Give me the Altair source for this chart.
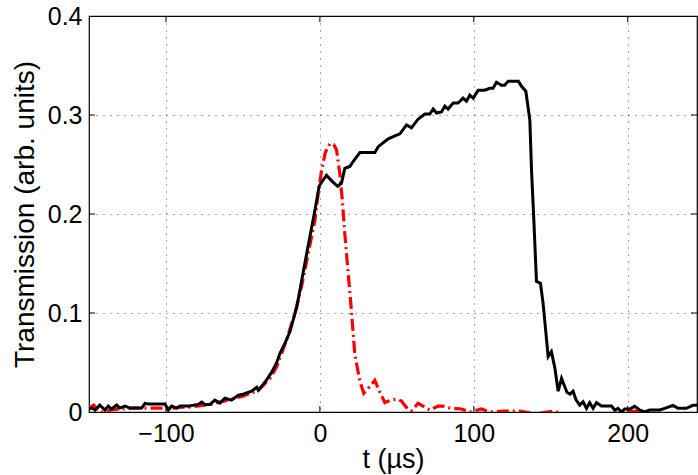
import altair as alt
import pandas as pd

# ---- data ----
t_black = [-150, -148, -146, -143, -139.6, -137.5, -135.3, -132, -130, -126.6, -123.4, -120, -115.8,
           -113.6, -111.5, -100.6, -98.5, -96.3, -93, -90.9, -85, -79, -76.8, -74.7, -71.4, -68.2,
           -65, -61.7, -57.4, -53, -49.8, -44.4, -41, -40, -35.7, -31.4, -28, -26, -22.5, -19.5,
           -15, -11, -6.5, -3.2, -0.5, 1.5, 4.3, 8, 11.5, 14, 16.2, 19.5, 21.6, 26, 35.7, 37.9,
           44.4, 48.7, 52, 56.3, 59.5, 63.9, 68.2, 71.4, 73.6, 75.8, 79, 81.2, 83.3, 86.6, 89.8,
           93, 95.2, 97.4, 99.6, 102.8, 107, 110.4, 112.5, 114.7, 118, 120, 122.3, 129, 131,
           133.8, 136.4, 137.5, 139, 140.7, 143.3, 145, 148.3, 150.4, 152.6, 154.8, 157, 160.5,
           162.5, 164.5, 166.5, 168.8, 171, 173.2, 175.3, 177.5, 179.7, 182.9, 189.4, 191.6,
           193.7, 195.9, 198, 201.3, 204.5, 207.8, 211, 214.3, 220.8, 224, 229.4, 232.7, 238,
           242.4, 245]
y_black = [0.003, 0.004, 0.002, 0.007, 0.002, 0.006, 0.003, 0.007, 0.004, 0.006, 0.004, 0.004, 0.004,
           0.0087, 0.008, 0.008, 0.002, 0.006, 0.004, 0.006, 0.006, 0.0077, 0.010, 0.0077, 0.0077, 0.012,
           0.009, 0.014, 0.012, 0.017, 0.018, 0.021, 0.025, 0.022, 0.030, 0.040, 0.050, 0.059, 0.070, 0.081,
           0.106, 0.140, 0.177, 0.204, 0.228, 0.233, 0.239, 0.233, 0.228, 0.231, 0.246, 0.248, 0.253, 0.262, 0.262, 0.268,
           0.276, 0.279, 0.281, 0.290, 0.287, 0.296, 0.301, 0.301, 0.306, 0.302, 0.303, 0.309, 0.306, 0.312, 0.312,
           0.317, 0.314, 0.320, 0.317, 0.325, 0.325, 0.327, 0.327, 0.333, 0.330, 0.330, 0.334, 0.334, 0.329,
           0.324, 0.295, 0.244, 0.194, 0.132, 0.130, 0.110, 0.056, 0.061, 0.045, 0.021, 0.034, 0.020,
           0.018, 0.021, 0.012, 0.007, 0.0104, 0.0037, 0.0094, 0.0037, 0.0094, 0.006, 0.006, 0.002,
           0.0037, 0.0, 0.003, 0.003, 0.0057, 0.002, 0.0, 0.002, 0.002, 0.0037, 0.0067, 0.0037, 0.0037,
           0.0067, 0.0067]

t_red = [-150, -147, -143, -139, -136, -130, -120, -110, -100, -95, -90, -85, -80, -75, -70, -65, -60,
         -55, -50, -45, -40, -36.8, -32, -28, -21.6, -16.2, -11.9, -7.6, -3.2, -1.1, 1.1, 3.5, 6.5, 9,
         10.8, 13, 14.5, 16.2, 18.4, 20.6, 22.7, 26, 28.5, 32, 35.7, 39, 42.2, 46, 50, 53, 56, 59.5,
         63.8, 67, 71.4, 76.8, 80, 84.4, 92, 97.4, 105, 110.4, 119, 130, 140, 152, 160, 180, 205, 220, 245]
y_red = [0.004, 0.007, 0.0, 0.0, 0.002, 0.003, 0.004, 0.004, 0.004, 0.004, 0.005, 0.005, 0.006, 0.007, 0.008, 0.010, 0.012,
         0.014, 0.016, 0.019, 0.022, 0.027, 0.035, 0.046, 0.073, 0.100, 0.127, 0.160, 0.194, 0.221, 0.244, 0.262, 0.271, 0.270,
         0.265, 0.240, 0.215, 0.180, 0.140, 0.100, 0.058, 0.031, 0.019, 0.025, 0.032, 0.020, 0.0095, 0.012, 0.013, 0.011, 0.005, 0.001,
         0.0088, 0.006, 0.002, 0.006, 0.006, 0.004, 0.003, 0.0, 0.003, 0.0, 0.001, 0.001, -0.002, 0.001, -0.003, -0.003, 0.001, -0.003, -0.003]

x_ticks = [-100, 0, 100, 200]
y_ticks = [0, 0.1, 0.2, 0.3, 0.4]

W, H = 608, 396
FONT = "Liberation Sans"

xs = alt.Scale(domain=[-150, 245], nice=False, zero=False)
ys = alt.Scale(domain=[0, 0.4], nice=False, zero=False)

black_df = pd.DataFrame({"t": t_black, "v": y_black})
red_df = pd.DataFrame({"t": t_red, "v": y_red})
xt_df = pd.DataFrame({"v": x_ticks})
yt_df = pd.DataFrame({"v": y_ticks[1:-1]})

x_axis = alt.Axis(values=x_ticks, title="t (µs)", grid=True, gridDash=[1, 6], gridColor="#222",
                  gridOpacity=0.8, domain=False, ticks=False, labelFontSize=25, labelFont=FONT,
                  labelPadding=9, labelColor="black", titleFont=FONT, titleFontSize=27,
                  titleFontWeight="normal", titleColor="black", titlePadding=0,
                  labelFlush=False, format="d")
y_axis = alt.Axis(values=y_ticks, title="Transmission (arb. units)", grid=True, gridDash=[1, 6],
                  gridColor="#222", gridOpacity=0.8, domain=False, ticks=False, labelFontSize=25,
                  labelFont=FONT, labelPadding=7, labelColor="black", titleFont=FONT,
                  titleFontSize=28, titleFontWeight="normal", titleColor="black", titlePadding=8,
                  labelFlush=False, labelExpr="datum.value == 0 ? '0' : format(datum.value, '.1f')")

black = alt.Chart(black_df).mark_line(color="black", strokeWidth=3, clip=True).encode(
    x=alt.X("t:Q", scale=xs, axis=x_axis),
    y=alt.Y("v:Q", scale=ys, axis=y_axis),
)
red = alt.Chart(red_df).mark_line(color="#ff0000", strokeWidth=3.2, strokeDash=[12, 4, 2, 4], clip=True).encode(
    x=alt.X("t:Q", scale=xs),
    y=alt.Y("v:Q", scale=ys),
)

tick_b = alt.Chart(xt_df).mark_rule(color="black", strokeWidth=1).encode(
    x=alt.X("v:Q", scale=xs), y=alt.value(H), y2=alt.value(H - 6))
tick_t = alt.Chart(xt_df).mark_rule(color="black", strokeWidth=1).encode(
    x=alt.X("v:Q", scale=xs), y=alt.value(0), y2=alt.value(6))
tick_l = alt.Chart(yt_df).mark_rule(color="black", strokeWidth=1).encode(
    y=alt.Y("v:Q", scale=ys), x=alt.value(0), x2=alt.value(6))
tick_r = alt.Chart(yt_df).mark_rule(color="black", strokeWidth=1).encode(
    y=alt.Y("v:Q", scale=ys), x=alt.value(W), x2=alt.value(W - 6))

chart = alt.layer(tick_b, tick_t, tick_l, tick_r, red, black).properties(
    width=W, height=H,
    autosize=alt.AutoSizeParams(type="none"),
    padding={"left": 89, "top": 16, "right": 1, "bottom": 63},
    background="white",
).configure_view(stroke="black", strokeWidth=1.2)

chart.save("out.html", embed_options={"renderer": "svg", "actions": False})
